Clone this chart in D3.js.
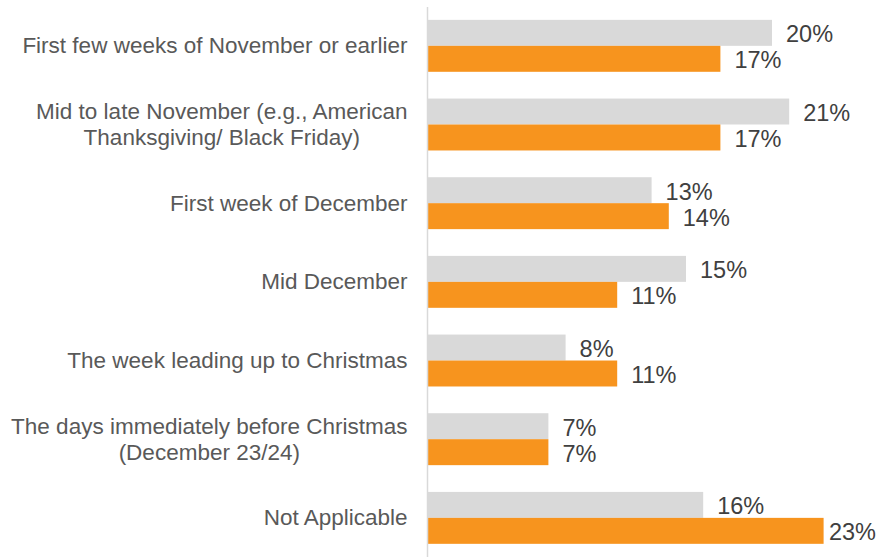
<!DOCTYPE html>
<html>
<head>
<meta charset="utf-8">
<script src="https://cdn.jsdelivr.net/npm/d3@7"></script>
<style>
  html, body { margin: 0; padding: 0; background: #ffffff; }
  svg { display: block; font-family: "Liberation Sans", Arial, sans-serif; }
</style>
</head>
<body>
<svg id="chart" width="881" height="557"></svg>
<script>
// Timing options (each entry is a list of label lines)
const categories = [
  ["First few weeks of November or earlier"],
  ["Mid to late November (e.g., American", "Thanksgiving/ Black Friday)"],
  ["First week of December"],
  ["Mid December"],
  ["The week leading up to Christmas"],
  ["The days immediately before Christmas", "(December 23/24)"],
  ["Not Applicable"]
];
const seriesNames = ["Series A", "Series B"];
const greyValues = [20, 21, 13, 15, 8, 7, 16];
const orangeValues = [17, 17, 14, 11, 11, 7, 23];
const seriesColors = ["#d9d9d9", "#f7941e"];

const W = 881;
const svg = d3.select("#chart");

const x = d3.scaleLinear().domain([0, 25]).range([428, 858]);
const y = d3.scaleBand()
  .domain(d3.range(categories.length))
  .range([6.5, 557.2])
  .paddingInner(0.34)
  .paddingOuter(0.17);
const sub = d3.scaleBand()
  .domain([0, 1])
  .range([0, y.bandwidth()]);

const rows = categories.map((c, i) => ({
  lines: c,
  vals: [greyValues[i], orangeValues[i]]
}));

const g = svg.append("g");

// bars
const row = g.selectAll("g.row").data(rows).join("g")
  .attr("class", "row")
  .attr("transform", (d, i) => `translate(0,${y(i)})`);

row.selectAll("rect").data(d => d.vals).join("rect")
  .attr("x", x(0))
  .attr("y", (v, j) => sub(j))
  .attr("width", v => x(v) - x(0))
  .attr("height", sub.bandwidth())
  .attr("fill", (v, j) => seriesColors[j]);

// value labels, pulled inward when they would run past the right edge
row.selectAll("text.val").data(d => d.vals).join("text")
  .attr("class", "val")
  .attr("y", (v, j) => sub(j) + sub.bandwidth() / 2 + 1.5)
  .attr("dominant-baseline", "central")
  .attr("font-size", 23.5)
  .attr("fill", "#404040")
  .text(v => v + "%")
  .attr("x", function(v) {
    const w = this.getComputedTextLength();
    return Math.min(x(v) + 14, W - 5 - w);
  });

// vertical axis line
g.append("line")
  .attr("x1", 427.5).attr("x2", 427.5)
  .attr("y1", 7).attr("y2", 557)
  .attr("stroke", "#d9d9d9")
  .attr("stroke-width", 1.5);

// category labels: block right-aligned, lines centred within the block
const labelRight = 407.5;
const lineH = 26;
rows.forEach((d, i) => {
  const cy = y(i) + y.bandwidth() / 2;
  const lg = g.append("g");
  const texts = d.lines.map((t, k) => lg.append("text")
    .attr("font-size", 22.5)
    .attr("fill", "#595959")
    .attr("dominant-baseline", "central")
    .attr("text-anchor", "middle")
    .attr("y", cy + (k - (d.lines.length - 1) / 2) * lineH)
    .text(t));
  const maxW = d3.max(texts, t => t.node().getComputedTextLength());
  texts.forEach(t => t.attr("x", labelRight - maxW / 2));
});
</script>
</body>
</html>
